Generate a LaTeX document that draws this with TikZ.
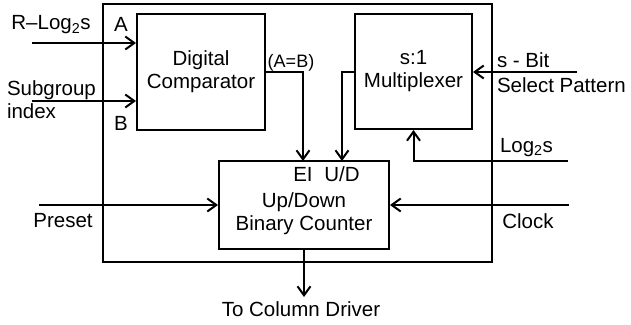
\documentclass[tikz,border=0pt]{standalone}
\usepackage{fontspec}
\setmainfont{Liberation Sans}
\usetikzlibrary{arrows.meta, positioning, calc}

\begin{document}
\begin{tikzpicture}[x=1pt, y=-1pt, line width=2pt,
    font=\fontsize{20.5}{23}\selectfont]
  % Styles for blocks, labels and signal lines
  \tikzset{
    block/.style={draw, rectangle, inner sep=0pt, align=center},
    lbl/.style={inner sep=0pt, align=center},
    sig/.style={-{Straight Barb[length=9pt, width=13pt, line width=2pt]}}
  }

  \useasboundingbox (0,0) rectangle (631,324);

  % Outer frame
  \draw (103,4) rectangle (492,262);

  % Blocks
  \node[block, minimum width=128pt, minimum height=116pt] (comp) at (201,72)
    {Digital\\Comparator};
  \node[block, minimum width=117pt, minimum height=115pt] (mux) at (413.5,71.5)
    {s:1\\Multiplexer};
  \node[block, minimum width=170pt, minimum height=88pt] (cnt) at (304,205) {};
  \node[lbl] (cntText) at (304,214) {Up/Down\\Binary Counter};

  % Free ends of the connectors
  \coordinate (inA) at (32,43);
  \coordinate (inB) at (32,101);
  \coordinate (inSel) at (577,72);
  \coordinate (inLog) at (568,161);
  \coordinate (inPre) at (39,205);
  \coordinate (inClk) at (569,205);
  \coordinate (ei) at (303,161);
  \coordinate (ud) at (342,161);
  \coordinate (outCol) at (304,297);

  % Connectors
  \draw[sig] (inA) -- (inA -| comp.west);
  \draw[sig] (inB) -- (inB -| comp.west);
  \draw[sig] (comp.east) -| (ei);
  \draw[sig] (mux.west) -| (ud);
  \draw[sig] (inSel) -- (inSel -| mux.east);
  \draw[sig] (inLog) -| (mux.south);
  \draw[sig] (inPre) -- (cnt.west);
  \draw[sig] (inClk) -- (cnt.east);
  \draw[sig] (cnt.south) -- (outCol);

  % Labels
  \node[lbl] (lblRlog) at (51,25) {R–Log\textsubscript{2}s};
  \node[lbl] (lblA) at (121,24) {A};
  \node[lbl] (lblB) at (121,123) {B};
  \node[lbl, anchor=west, align=left] (lblSub) at (6,100) {Subgroup\\index};
  \node[lbl, font=\fontsize{18}{20}\selectfont] (lblEq) at (291,63) {(A=B)};
  \node[lbl, anchor=base] (lblEI) at (303,181) {EI};
  \node[lbl, anchor=base] (lblUD) at (342,181) {U/D};
  \node[lbl, anchor=base west] (lblBit) at (496,67) {s - Bit};
  \node[lbl, anchor=base west] (lblSel) at (496,92) {Select Pattern};
  \node[lbl, anchor=base west] (lblLog) at (499,152) {Log\textsubscript{2}s};
  \node[lbl] (lblPre) at (63,221) {Preset};
  \node[lbl] (lblClk) at (528,221) {Clock};
  \node[lbl] (lblCol) at (301,309) {To Column Driver};
\end{tikzpicture}
\end{document}
